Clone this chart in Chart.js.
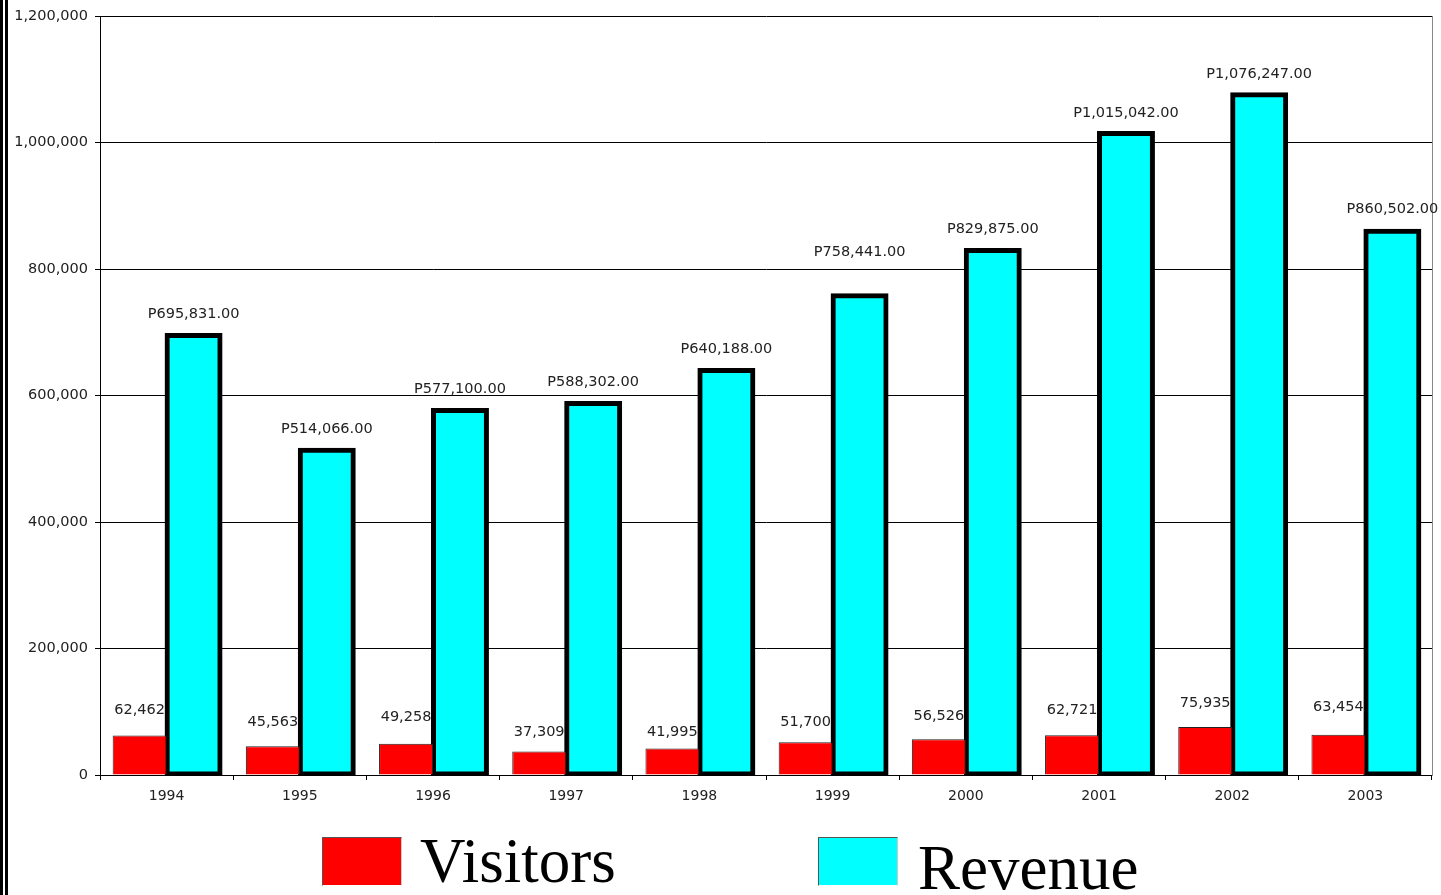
<!DOCTYPE html>
<html>
<head>
<meta charset="utf-8">
<script src="https://cdn.jsdelivr.net/npm/chart.js@4.4.1/dist/chart.umd.min.js"></script>
<style>
  html, body { margin: 0; padding: 0; background: #fff; overflow: hidden; }
  #wrap { position: relative; width: 1441px; height: 895px; }
  #chart { position: absolute; left: 0; top: 0; }
  #edge { position: absolute; left: 0; top: 0; width: 0; height: 895px; border-left: 8px double #000; }
  .box { position: absolute; width: 78px; height: 47px; border: 1px solid #555; border-bottom-color: #fff; border-right-color: #ccc; }
  .lbl { position: absolute; font-family: "Liberation Serif", "Times New Roman", serif; font-size: 63px; line-height: 62px; color: #000; white-space: nowrap; }
</style>
</head>
<body>
<div id="wrap">
  <canvas id="chart" width="1441" height="895"></canvas>
  <div id="edge"></div>
  <div class="box" style="left:322px; top:837px; background:#ff0000;"></div>
  <div class="lbl" style="left:420px; top:830px;">Visitors</div>
  <div class="box" style="left:818px; top:837px; background:#00ffff;"></div>
  <div class="lbl" style="left:918px; top:837px;">Revenue</div>
</div>
<script>
// values
const years = ["1994", "1995", "1996", "1997", "1998", "1999", "2000", "2001", "2002", "2003"];
const visitors = [62462, 45563, 49258, 37309, 41995, 51700, 56526, 62721, 75935, 63454];
const revenue = [695831, 514066, 577100, 588302, 640188, 758441, 829875, 1015042, 1076247, 860502];
const yTicks = [0, 200000, 400000, 600000, 800000, 1000000, 1200000];

const textColor = "#222";
const tickFont = { family: "DejaVu Sans", size: 14 };

// distance of each value label above its bar (px), as placed in the original
const visitorLift = [18, 17, 19, 12, 9, 13, 16, 18, 16, 20];
const revenueLift = [13, 13, 13, 13, 14, 36, 14, 13, 13, 14];

// labels above bars
const barLabels = {
    id: "barLabels",
    afterDatasetsDraw(chart) {
        const ctx = chart.ctx;
        ctx.save();
        ctx.font = "14.5px 'DejaVu Sans'";
        ctx.fillStyle = textColor;
        ctx.textAlign = "center";
        ctx.textBaseline = "bottom";
        chart.data.datasets.forEach(function (ds, i) {
            const meta = chart.getDatasetMeta(i);
            meta.data.forEach(function (bar, j) {
                const v = ds.data[j];
                let txt, off;
                if (i === 0) {
                    txt = v.toLocaleString("en-US");
                    off = visitorLift[j];
                } else {
                    txt = "P" + v.toLocaleString("en-US", { minimumFractionDigits: 2 });
                    off = revenueLift[j];
                }
                ctx.fillText(txt, bar.x, bar.y - off);
            });
        });
        ctx.restore();
    }
};

new Chart(document.getElementById("chart").getContext("2d"), {
    type: "bar",
    data: {
        labels: years,
        datasets: [
            {
                label: "Visitors",
                data: visitors,
                backgroundColor: "#ff0000",
                borderColor: "#222",
                borderWidth: 1,
                borderSkipped: "bottom"
            },
            {
                label: "Revenue",
                data: revenue,
                backgroundColor: "#00ffff",
                borderColor: "#000",
                borderWidth: 5,
                borderSkipped: false,
                inflateAmount: 2
            }
        ]
    },
    options: {
        responsive: false,
        animation: false,
        categoryPercentage: 0.81,
        barPercentage: 1.0,
        layout: { padding: { left: 10, right: 9, top: 16, bottom: 90 } },
        plugins: {
            legend: { display: false },
            tooltip: { enabled: false }
        },
        scales: {
            x: {
                grid: { drawOnChartArea: false, color: "#000", tickLength: 5 },
                border: { color: "#000" },
                ticks: { color: textColor, font: tickFont, padding: 8 },
                afterFit: function (s) { s.height = 30; }
            },
            y: {
                min: 0,
                max: 1200000,
                afterBuildTicks: function (s) { s.ticks = yTicks.map(v => ({ value: v })); },
                grid: { color: "#000", lineWidth: 1, tickLength: 5 },
                border: { color: "#000" },
                ticks: {
                    color: textColor,
                    font: { family: "DejaVu Sans", size: 14.5 },
                    padding: 7,
                    callback: v => v.toLocaleString("en-US")
                },
                afterFit: function (s) { s.width = 90; }
            },
            y2: {
                position: "right",
                min: 0,
                max: 1200000,
                grid: { drawOnChartArea: false, drawTicks: false },
                border: { color: "#888" },
                ticks: { display: false },
                afterFit: function (s) { s.width = 0; }
            }
        }
    },
    plugins: [barLabels]
});
</script>
</body>
</html>
